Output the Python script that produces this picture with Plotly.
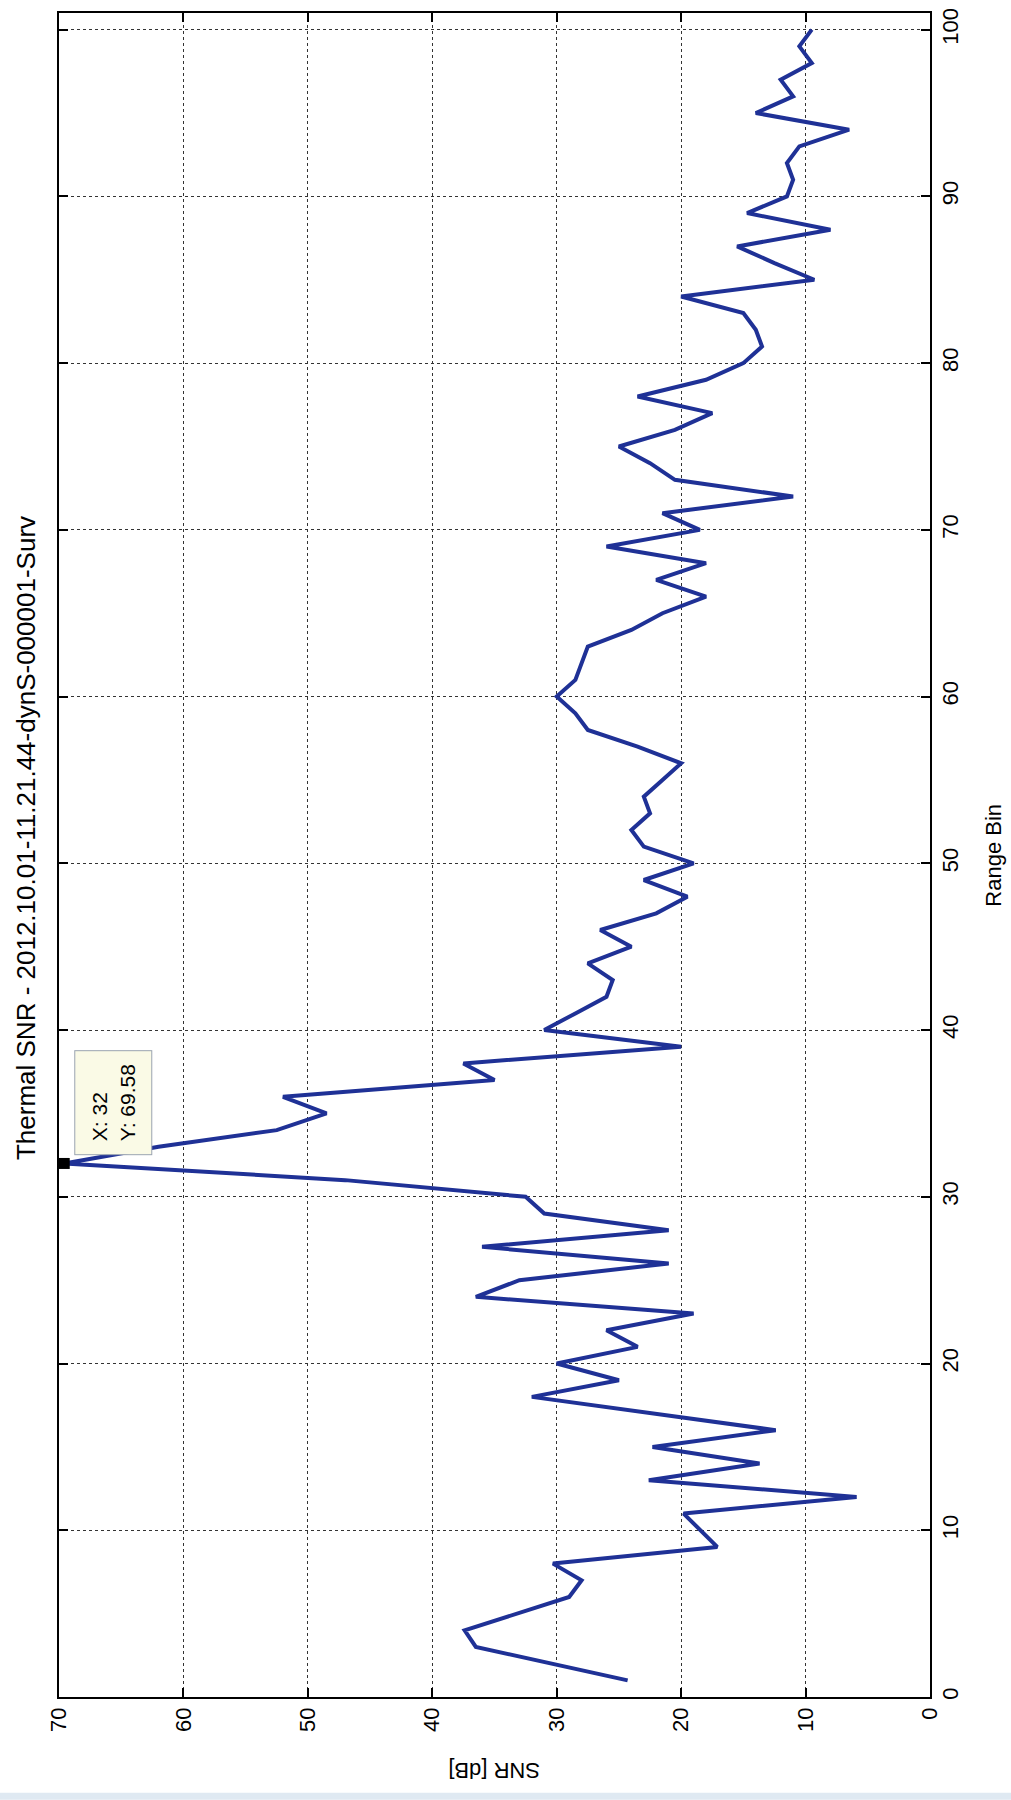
import plotly.graph_objects as go

# Range bin index (x in the original MATLAB plot)
range_bin = list(range(1, 101))
# Thermal SNR [dB]
snr_db = [
    24.3, 30.5, 36.5, 37.4, 33.2, 29.0, 28.0, 30.3, 17.1, 18.5,
    19.8, 5.9, 22.6, 13.7, 22.3, 12.4, 22.0, 32.0, 25.0, 30.0,
    23.5, 26.0, 19.0, 36.5, 33.0, 21.0, 36.0, 21.0, 31.0, 32.5,
    47.0, 69.58, 62.0, 52.5, 48.5, 52.0, 35.0, 37.5, 20.0, 31.0,
    28.5, 26.0, 25.5, 27.5, 24.0, 26.5, 22.0, 19.5, 23.0, 19.0,
    23.0, 24.0, 22.5, 23.0, 21.5, 20.0, 23.5, 27.5, 28.5, 30.0,
    28.5, 28.0, 27.5, 24.0, 21.5, 18.0, 22.0, 18.0, 26.0, 18.5,
    21.5, 11.0, 20.5, 22.5, 25.0, 20.5, 17.5, 23.5, 18.0, 15.0,
    13.5, 14.0, 15.0, 20.0, 9.3, 12.5, 15.5, 8.0, 14.7, 11.5,
    11.0, 11.5, 10.5, 6.5, 14.0, 11.0, 12.0, 9.5, 10.5, 9.5,
]
snr_ticks = [0, 10, 20, 30, 40, 50, 60, 70]
bin_ticks = [0, 10, 20, 30, 40, 50, 60, 70, 80, 90, 100]
tip_bin = 32
tip_snr = 69.58
title_text = "Thermal SNR - 2012.10.01-11.21.44-dynS-000001-Surv"

FONT = "Liberation Sans, Arial, sans-serif"

fig = go.Figure()
fig.add_trace(go.Scatter(
    x=snr_db, y=range_bin, mode="lines",
    line=dict(color="#1f3196", width=4),
    hoverinfo="skip", showlegend=False,
))
fig.add_trace(go.Scatter(
    x=[tip_snr], y=[tip_bin], mode="markers",
    marker=dict(symbol="square", size=11, color="black"),
    hoverinfo="skip", showlegend=False,
))

axis_common = dict(
    showline=True, linecolor="black", linewidth=1.5, mirror="ticks",
    ticks="inside", ticklen=9, tickwidth=1.5, tickcolor="black",
    showgrid=True, gridcolor="#333333", griddash="dot", gridwidth=1,
    zeroline=False, tickfont=dict(family=FONT, size=22, color="black"),
    tickangle=-90,
)

fig.update_layout(
    width=1011, height=1800, autosize=False,
    margin=dict(l=59, r=81, t=8, b=103),
    paper_bgcolor="white", plot_bgcolor="white",
    xaxis=dict(range=[70, 0], tickvals=snr_ticks, **axis_common),
    yaxis=dict(range=[0, 101], tickvals=bin_ticks, side="right", **axis_common),
    shapes=[
        dict(type="rect", xref="paper", yref="paper", x0=-0.07, x1=1.1,
             y0=(1697 - 1793) / 1689, y1=(1697 - 1800) / 1689,
             fillcolor="#dfe9f2", line=dict(width=0), layer="below"),
    ],
    annotations=[
        dict(text=title_text, xref="paper", yref="paper", x=-0.038, y=0.51,
             textangle=-90, showarrow=False, xanchor="center", yanchor="middle",
             font=dict(family=FONT, size=26, color="black")),
        dict(text="Range Bin", xref="paper", yref="paper", x=1.072, y=0.5,
             textangle=-90, showarrow=False, xanchor="center", yanchor="middle",
             font=dict(family=FONT, size=22, color="black")),
        dict(text="SNR [dB]", xref="paper", yref="paper", x=0.5, y=-0.044,
             textangle=180, showarrow=False, xanchor="center", yanchor="middle",
             font=dict(family=FONT, size=22, color="black")),
        dict(text="X: 32<br>Y: 69.58", x=tip_snr, y=tip_bin, xref="x", yref="y",
             textangle=-90, showarrow=False, align="left",
             xanchor="left", yanchor="bottom", xshift=10, yshift=8,
             bgcolor="#fafae6", bordercolor="#9aa4b0", borderwidth=1, borderpad=13,
             font=dict(family=FONT, size=21, color="black")),
    ],
)

fig.write_html("out.html")
